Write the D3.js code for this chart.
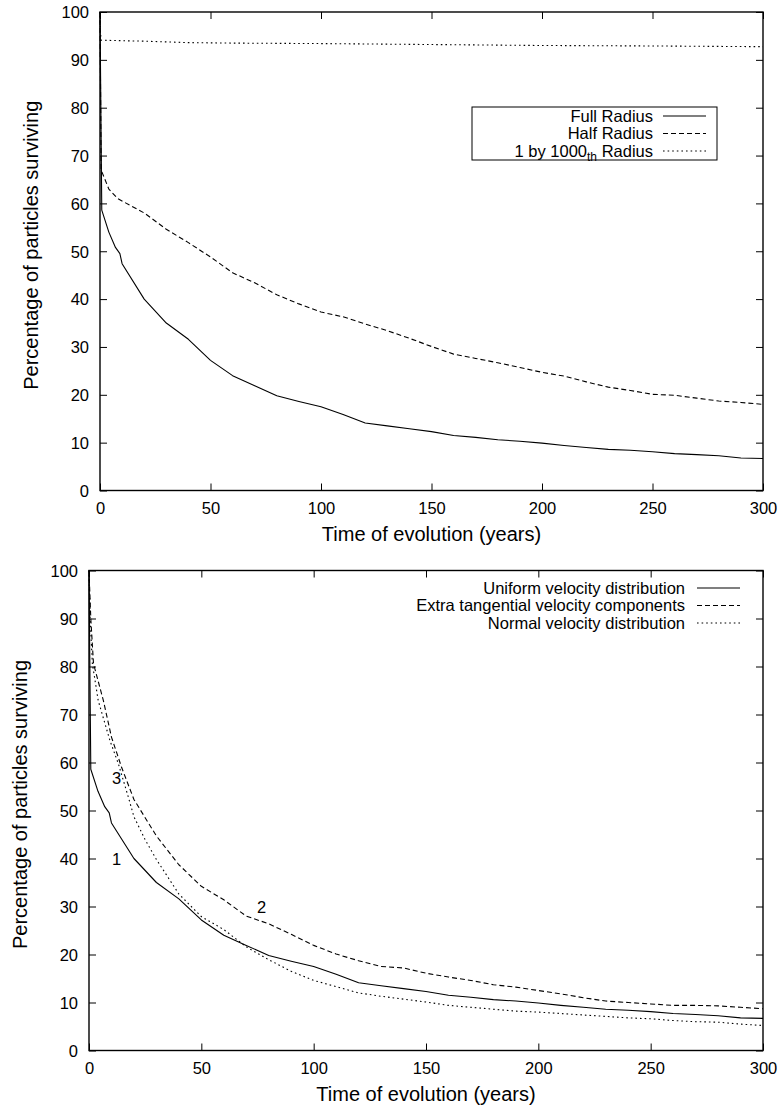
<!DOCTYPE html>
<html>
<head>
<meta charset="utf-8">
<script src="https://cdn.jsdelivr.net/npm/d3@7"></script>
<style>
  html, body { margin: 0; padding: 0; background: #fff; }
  svg { display: block; font-family: "Liberation Sans", Arial, Helvetica, sans-serif; }
  .tick-label { font-size: 16.5px; fill: #000; }
  .axis-title { font-size: 20px; fill: #000; }
  .legend-text { font-size: 16.5px; fill: #000; }
  .curve { fill: none; stroke: #000; stroke-width: 1.1; stroke-linejoin: round; }
</style>
</head>
<body>
<svg id="chart" width="781" height="1110"></svg>
<script>
// ---------- data: survival percentage vs. time (years) ----------

// Upper panel: dependence on particle radius
const timesFull = [0, 0.8, 4, 7, 9, 10, 20, 30, 40, 50, 60, 70, 80, 90, 100, 110, 120, 130, 140, 150,
                   160, 170, 180, 190, 200, 210, 220, 230, 240, 250, 260, 270, 280, 290, 300];
const fullRadius = [100, 58.6, 54, 50.8, 49.5, 47.4, 40, 35, 31.6, 27.2, 24.0, 21.9, 19.8, 18.6, 17.5, 15.9, 14.1, 13.5, 12.9, 12.3,
                    11.5, 11.1, 10.6, 10.3, 9.9, 9.4, 9.0, 8.6, 8.4, 8.1, 7.7, 7.5, 7.25, 6.8, 6.7];

const timesHalf = [0, 0.5, 4, 8, 20, 30, 40, 50, 60, 70, 80, 90, 100, 110, 120, 130, 140, 150,
                   160, 170, 180, 190, 200, 210, 220, 230, 240, 250, 260, 270, 280, 290, 300];
const halfRadius = [100, 67, 63, 61, 58, 54.6, 51.8, 48.8, 45.5, 43.4, 40.9, 39, 37.3, 36.3, 34.8, 33.4, 31.8, 30.1,
                    28.5, 27.6, 26.7, 25.7, 24.7, 23.9, 22.7, 21.6, 20.9, 20.1, 19.9, 19.3, 18.7, 18.4, 18.0];

const timesMilli = [0, 0.2, 0.5, 20, 40, 60, 100, 150, 200, 250, 300];
const milliRadius = [100, 96, 94.1, 93.9, 93.6, 93.5, 93.4, 93.2, 93.0, 92.9, 92.75];

// Lower panel: dependence on the velocity distribution
const timesUniform = timesFull;
const uniformVel = fullRadius;

const timesTangential = [0, 0.8, 2, 6.4, 10, 14.5, 20, 30, 40, 50, 60, 70, 80, 90, 100, 110, 120, 130, 140, 150,
                         160, 170, 180, 190, 200, 210, 220, 230, 240, 250, 260, 270, 280, 290, 300];
const tangentialVel = [100, 90, 80.6, 72.9, 65.3, 59, 52.3, 44.7, 38.7, 34.2, 31.4, 28, 26.4, 24.2, 21.9, 20.1, 18.7, 17.5, 17.2, 16.1,
                       15.3, 14.6, 13.7, 13.2, 12.5, 11.8, 11.0, 10.3, 10.0, 9.7, 9.4, 9.4, 9.3, 9.0, 8.7];

const timesNormal = [0, 0.5, 1.5, 4.1, 9.3, 13.1, 17.5, 20, 25, 30, 40, 50, 60, 70, 80, 90, 100, 110, 120, 130, 140, 150,
                     160, 170, 180, 190, 200, 210, 220, 230, 240, 250, 260, 270, 280, 290, 300];
const normalVel = [100, 90, 80.6, 72.9, 64.6, 59.7, 52.8, 48.7, 43.9, 39.8, 32.6, 27.9, 25.2, 21.6, 18.9, 16.5, 14.6, 13.3, 12.0, 11.3, 10.7, 10.1,
                   9.4, 9.0, 8.6, 8.2, 8.0, 7.7, 7.4, 7.1, 6.8, 6.6, 6.25, 6.0, 5.9, 5.5, 5.2];

// Axis ticks
const xTicks = [0, 50, 100, 150, 200, 250, 300];
const yTicks = [0, 10, 20, 30, 40, 50, 60, 70, 80, 90, 100];

// Series labels and line styles
const topLabels = ["Full Radius", "Half Radius", "1 by 1000"];
const bottomLabels = ["Uniform velocity distribution", "Extra tangential velocity components", "Normal velocity distribution"];
const curveNumbers = ["1", "2", "3"];
const numberPos = [[12.3, 39.9], [76.8, 29.9], [12.3, 56.8]];
const dashStyles = [null, "5,3", "1.6,3"];

const xTitle = "Time of evolution (years)";
const yTitle = "Percentage of particles surviving";

// ---------- drawing ----------
const svg = d3.select("#chart");

function zip(ts, vs) { return ts.map((t, i) => ({ t, v: vs[i] })); }

function styleAxis(sel) {
  sel.select(".domain").remove();
  sel.selectAll("line").attr("stroke", "#000").attr("stroke-width", 1);
  sel.selectAll("text").attr("class", "tick-label");
  sel.attr("font-family", null).attr("font-size", null);
}

function panel(box, series, legend) {
  const x = d3.scaleLinear().domain([0, 300]).range([box.left, box.right]);
  const y = d3.scaleLinear().domain([0, 100]).range([box.bottom, box.top]);
  const g = svg.append("g");
  const tickLen = 7;

  // inward ticks on all four sides (mirrored)
  const xb = g.append("g").attr("transform", `translate(0,${box.bottom})`)
    .call(d3.axisBottom(x).tickValues(xTicks).tickSizeInner(-tickLen).tickSizeOuter(0).tickFormat(d3.format("d")));
  const xt = g.append("g").attr("transform", `translate(0,${box.top})`)
    .call(d3.axisTop(x).tickValues(xTicks).tickSizeInner(-tickLen).tickSizeOuter(0).tickFormat(""));
  const yl = g.append("g").attr("transform", `translate(${box.left},0)`)
    .call(d3.axisLeft(y).tickValues(yTicks).tickSizeInner(-tickLen).tickSizeOuter(0).tickFormat(d3.format("d")));
  const yr = g.append("g").attr("transform", `translate(${box.right},0)`)
    .call(d3.axisRight(y).tickValues(yTicks).tickSizeInner(-tickLen).tickSizeOuter(0).tickFormat(""));
  [xb, xt, yl, yr].forEach(styleAxis);

  // tick label placement
  xb.selectAll("text").attr("dy", null).attr("y", 23);
  yl.selectAll("text").attr("x", -11).attr("dy", "0.35em");

  // frame
  g.append("rect")
    .attr("x", box.left).attr("y", box.top)
    .attr("width", box.right - box.left).attr("height", box.bottom - box.top)
    .attr("fill", "none").attr("stroke", "#000").attr("stroke-width", 1.4);

  // curves
  const line = d3.line().x(d => x(d.t)).y(d => y(d.v));
  series.forEach((s, i) => {
    g.append("path").attr("class", "curve")
      .attr("d", line(s))
      .attr("stroke-dasharray", dashStyles[i]);
  });

  // axis titles
  g.append("text").attr("class", "axis-title")
    .attr("x", (box.left + box.right) / 2).attr("y", box.bottom + 50)
    .attr("text-anchor", "middle").text(xTitle);
  g.append("text").attr("class", "axis-title")
    .attr("transform", `translate(${box.left - 62},${(box.top + box.bottom) / 2 - 6}) rotate(-90)`)
    .attr("text-anchor", "middle").text(yTitle);

  // legend
  if (legend.frame) {
    g.append("rect")
      .attr("x", legend.frame[0]).attr("y", legend.frame[1])
      .attr("width", legend.frame[2]).attr("height", legend.frame[3])
      .attr("fill", "#fff").attr("stroke", "#000").attr("stroke-width", 1);
  }
  legend.labels.forEach((lab, i) => {
    const ry = legend.y0 + i * legend.dy;
    const t = g.append("text").attr("class", "legend-text")
      .attr("x", legend.textRight).attr("y", ry).attr("dy", "0.35em")
      .attr("text-anchor", "end");
    t.append("tspan").text(lab);
    if (legend.sub && legend.sub[i]) {
      t.append("tspan").attr("font-size", "12px").attr("dy", "4").text(legend.sub[i]);
      t.append("tspan").attr("dy", "-4").text(legend.after[i]);
    }
    g.append("line")
      .attr("x1", legend.lineX[0]).attr("x2", legend.lineX[1])
      .attr("y1", ry).attr("y2", ry)
      .attr("stroke", "#000").attr("stroke-width", 1.1)
      .attr("stroke-dasharray", dashStyles[i]);
  });

  return { g, x, y };
}

// upper panel
panel({ left: 100, right: 763, top: 12, bottom: 490.5 },
  [zip(timesFull, fullRadius), zip(timesHalf, halfRadius), zip(timesMilli, milliRadius)],
  {
    frame: [472, 107, 245, 53],
    labels: topLabels, sub: [null, null, "th"], after: [null, null, " Radius"],
    textRight: 653, lineX: [663, 706], y0: 116, dy: 17.5
  });

// lower panel
const lower = panel({ left: 89, right: 763, top: 570.5, bottom: 1050.5 },
  [zip(timesUniform, uniformVel), zip(timesTangential, tangentialVel), zip(timesNormal, normalVel)],
  {
    frame: null,
    labels: bottomLabels,
    textRight: 685, lineX: [697, 740], y0: 588, dy: 17.5
  });

// curve numbers
curveNumbers.forEach((n, i) => {
  lower.g.append("text").attr("class", "legend-text")
    .attr("x", lower.x(numberPos[i][0])).attr("y", lower.y(numberPos[i][1]))
    .attr("dy", "0.35em").attr("text-anchor", "middle").text(n);
});
</script>
</body>
</html>
